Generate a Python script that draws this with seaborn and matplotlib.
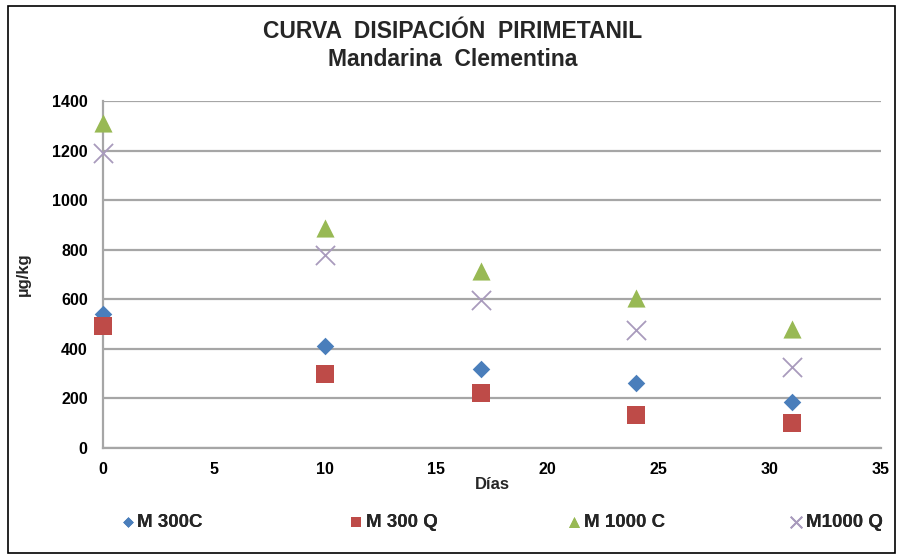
import matplotlib
matplotlib.use("Agg")
import matplotlib.pyplot as plt
from matplotlib.patches import Rectangle
import seaborn as sns
import pandas as pd

dias = [0, 10, 17, 24, 31]
m300c = [540, 411, 319, 262, 186]
m300q = [492, 298, 222, 133, 101]
m1000c = [1311, 887, 714, 605, 480]
m1000q = [1190, 778, 597, 476, 327]
series_names = ["M 300C", "M 300 Q", "M 1000 C", "M1000 Q"]
colors = ["#4A7EBB", "#BE4B48", "#98B954", "#A99BBD"]
markers = ["D", "s", "^", "x"]
sizes = [80, 150, 170, 190]

rows = []
for name, vals in zip(series_names, [m300c, m300q, m1000c, m1000q]):
    for d, v in zip(dias, vals):
        rows.append({"Días": d, "val": v, "serie": name})
df = pd.DataFrame(rows)

sns.set_style("white")
plt.rcParams["font.family"] = ["Liberation Sans", "DejaVu Sans"]
plt.rcParams["font.weight"] = "bold"

fig = plt.figure(figsize=(9.03, 5.6), dpi=100)
ax = fig.add_axes([103 / 903, 1 - 448 / 560, (881 - 103) / 903, (448 - 101) / 560])

for name, c, m, s in zip(series_names, colors, markers, sizes):
    sub = df[df["serie"] == name]
    kw = dict(linewidth=1.3) if m == "x" else dict(linewidth=0)
    sns.scatterplot(data=sub, x="Días", y="val", color=c, marker=m, s=s,
                    ax=ax, label=name, zorder=3, clip_on=False, **kw)

ax.set_xlim(0, 35)
ax.set_ylim(0, 1400)
ax.set_xticks(range(0, 36, 5))
ax.set_yticks(range(0, 1401, 200))
ax.yaxis.grid(True, color="#A6A6A6", linewidth=1.6)
ax.xaxis.grid(False)
for sp in ["top", "right"]:
    ax.spines[sp].set_visible(False)
for sp in ["left", "bottom"]:
    ax.spines[sp].set_color("#A6A6A6")
    ax.spines[sp].set_linewidth(1.6)
ax.tick_params(axis="both", labelsize=11.5, colors="#A6A6A6", labelcolor="black",
               length=5, width=1, direction="out")
ax.tick_params(axis="y", pad=6)
ax.tick_params(axis="x", pad=5)
for lbl in ax.get_xticklabels() + ax.get_yticklabels():
    lbl.set_fontweight("bold")
ax.set_xlabel("Días", fontsize=12, fontweight="bold", labelpad=0)
ax.set_ylabel("µg/kg", fontsize=12, fontweight="bold", labelpad=15)

fig.text(453 / 903, 1 - 32 / 560, "CURVA  DISIPACIÓN  PIRIMETANIL", ha="center", va="center",
         fontsize=16.5, fontweight="bold")
fig.text(453 / 903, 1 - 60 / 560, "Mandarina  Clementina", ha="center", va="center",
         fontsize=16.5, fontweight="bold")

handles, labels = ax.get_legend_handles_labels()
if ax.legend_:
    ax.legend_.remove()
legend_x = [120, 349, 567, 789]
for h, l, lx in zip(handles, labels, legend_x):
    fig.add_artist(fig.legend([h], [l], loc="center left", bbox_to_anchor=(lx / 903, 1 - 522 / 560),
                              frameon=False, markerscale=0.6, handletextpad=0.1,
                              prop={"size": 13.5, "weight": "bold"}, handlelength=0.8,
                              borderpad=0, borderaxespad=0))

fig.patches.append(Rectangle((8 / 903, 1 - 553 / 560), (895 - 8) / 903, (553 - 6) / 560,
                             transform=fig.transFigure, fill=False, edgecolor="black",
                             linewidth=1.2))

fig.savefig("out.png", dpi=100)
